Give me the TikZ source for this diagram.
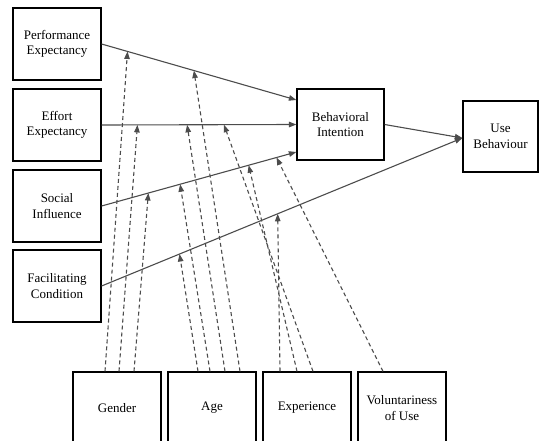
\documentclass[tikz,border=0pt]{standalone}
\usepackage{fontspec}
\setmainfont{Liberation Serif}
\usepackage{tikz}
\usetikzlibrary{arrows.meta, positioning, calc}

\begin{document}
\begin{tikzpicture}[
    x=1pt, y=-1pt,
    construct/.style={rectangle, draw=black, line width=1.2pt, fill=white, minimum width=88pt, minimum height=72pt, align=center, font=\rmfamily\fontsize{13}{15.5}\selectfont},
    effect/.style={draw=black!70, line width=1.1pt, -{Triangle[length=7.5pt, width=5.5pt]}},
    moderator/.style={draw=black!70, line width=1.1pt, dash pattern=on 4pt off 3pt, -{Triangle[length=7.5pt, width=5.5pt]}}
]
\clip (0,0) rectangle (539,441);

% Determinants
\node[construct] (pe) at (57,44)  {Performance\\Expectancy};
\node[construct] (ee) at (57,125) {Effort\\Expectancy};
\node[construct] (si) at (57,206) {Social\\Influence};
\node[construct] (fc) at (57,286) {Facilitating\\Condition};

% Intention and use
\node[construct, minimum width=87pt, minimum height=71pt] (bi) at (340.5,124.5) {Behavioral\\Intention};
\node[construct, minimum width=75pt, minimum height=71pt] (bu) at (500.5,136.5) {Use\\Behaviour};

% Moderators
\node[construct] (gender) at (117,408) {Gender};
\node[construct] (age)    at (212,408) {Age};
\node[construct] (exp)    at (307,408) {Experience};
\node[construct] (vol)    at (402,408) {Voluntariness\\of Use};

% Direct effects, with points where the moderators meet them
\draw[effect] (pe.east) -- coordinate[pos=0.133] (pe1) coordinate[pos=0.474] (pe2) ([yshift=24.5pt]bi.west);
\draw[effect] (ee.east) -- coordinate[pos=0.184] (ee1) coordinate[pos=0.439] (ee2) coordinate[pos=0.628] (ee3) (bi.west);
\draw[effect] (si.east) -- coordinate[pos=0.24] (si1) coordinate[pos=0.403] (si2) coordinate[pos=0.755] (si3) coordinate[pos=0.898] (si4) ([yshift=-27.5pt]bi.west);
\draw[effect] (fc.east) -- coordinate[pos=0.216] (fc1) coordinate[pos=0.488] (fc2) ([yshift=-1.5pt]bu.west);
\draw[effect] (bi.east) -- ([yshift=-1.5pt]bu.west);

% Moderating effects
\draw[moderator] ([xshift=-12pt]gender.north) -- (pe1);
\draw[moderator] ([xshift=2pt]gender.north)   -- (ee1);
\draw[moderator] ([xshift=17pt]gender.north)  -- (si1);
\draw[moderator] ([xshift=-14pt]age.north)    -- (fc1);
\draw[moderator] ([xshift=-2pt]age.north)     -- (si2);
\draw[moderator] ([xshift=13pt]age.north)     -- (ee2);
\draw[moderator] ([xshift=28pt]age.north)     -- (pe2);
\draw[moderator] ([xshift=-27pt]exp.north)    -- (fc2);
\draw[moderator] ([xshift=-10pt]exp.north)    -- (si3);
\draw[moderator] ([xshift=6pt]exp.north)      -- (ee3);
\draw[moderator] ([xshift=-19pt]vol.north)    -- (si4);

\end{tikzpicture}
\end{document}
